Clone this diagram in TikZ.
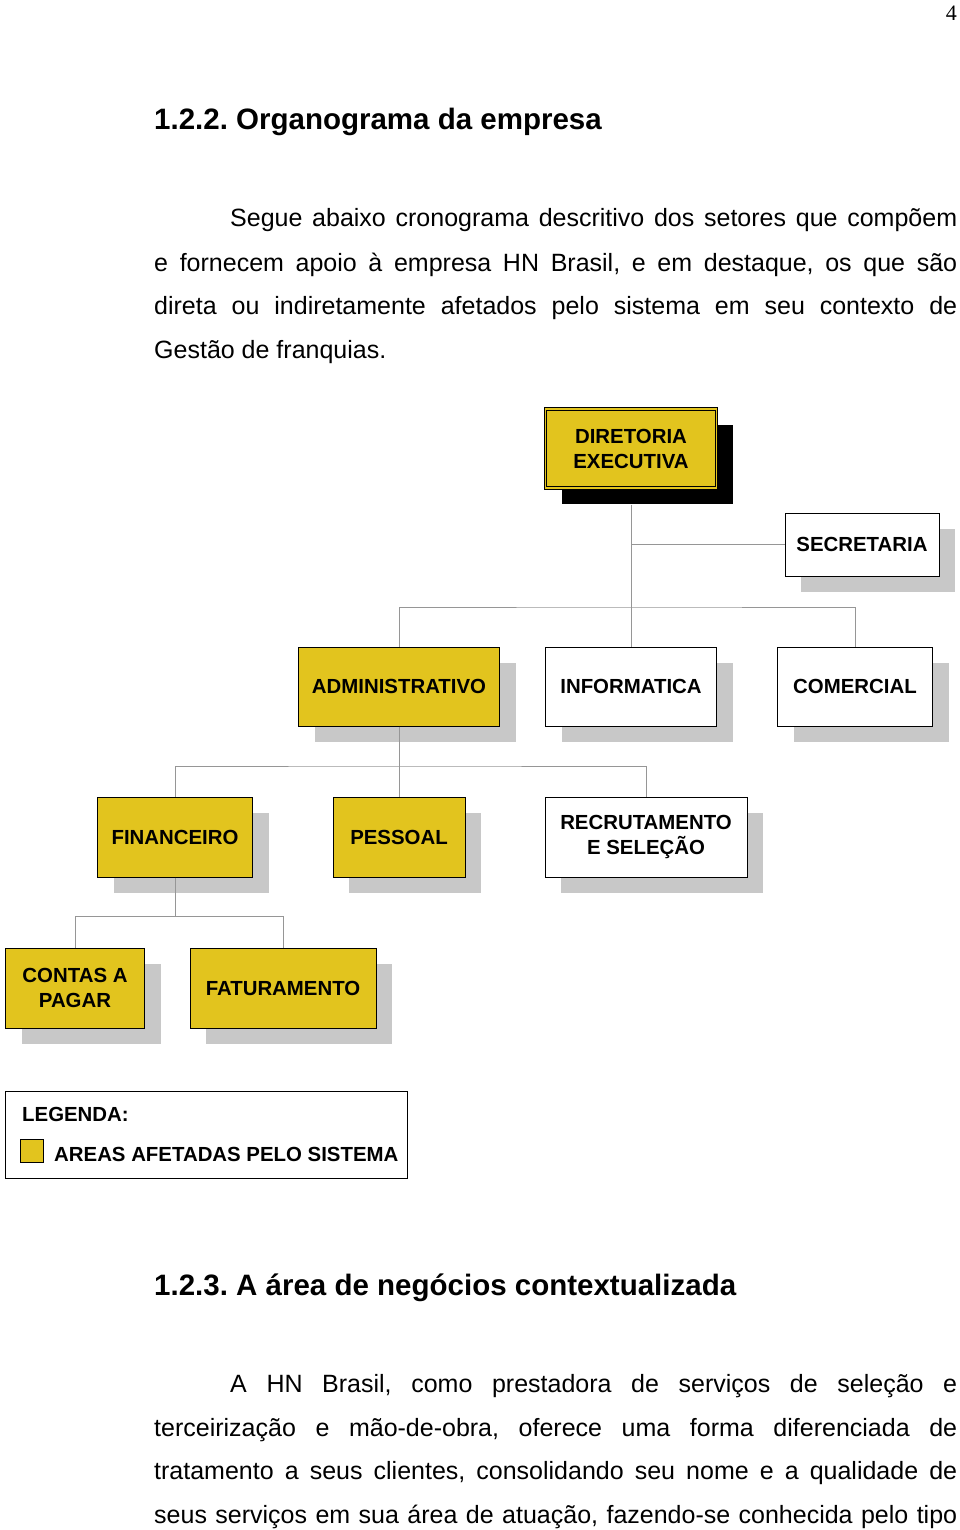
\documentclass[tikz,border=0pt]{standalone}
\usepackage{fontspec}
\setmainfont{Liberation Sans}
\newfontfamily\pagefont{Liberation Serif}
\usetikzlibrary{shadows}
\frenchspacing

\definecolor{areayellow}{RGB}{226,196,30}
\definecolor{shadegray}{RGB}{200,200,200}
\definecolor{linkgray}{RGB}{150,150,150}

\tikzset{
  boxbase/.style={draw=black, line width=1pt, align=center, inner sep=0pt,
    font=\fontsize{20.4}{25}\selectfont\bfseries},
  shade/.style={copy shadow={shadow xshift=16pt, shadow yshift=-16pt,
    fill=#1, draw=none}},
  shade/.default=shadegray,
  affected/.style={boxbase, shade, fill=areayellow},
  other/.style={boxbase, shade, fill=white},
  link/.style={draw=linkgray, line width=0.8pt},
  bodytext/.style={anchor=base west, inner sep=0pt,
    font=\fontsize{25}{30}\selectfont},
  headtext/.style={anchor=base west, inner sep=0pt,
    font=\fontsize{29.5}{34}\selectfont\bfseries},
}

\begin{document}
\begin{tikzpicture}[x=1pt, y=-1pt]
  \useasboundingbox (0,0) rectangle (960,1530);

  % --- Page number and first section ---
  \node[anchor=base east, inner sep=0pt, font=\pagefont\fontsize{22}{26}\selectfont]
    (pagenum) at (957,21) {4};
  \node[headtext] (head1) at (154,130) {1.2.2. Organograma da empresa};
  \node[bodytext] (par1a) at (230,227)
    {\makebox[727pt][s]{Segue abaixo cronograma descritivo dos setores que compõem}};
  \node[bodytext] (par1b) at (154,271)
    {\makebox[803pt][s]{e fornecem apoio à empresa HN Brasil, e em destaque, os que são}};
  \node[bodytext] (par1c) at (154,314)
    {\makebox[803pt][s]{direta ou indiretamente afetados pelo sistema em seu contexto de}};
  \node[bodytext] (par1d) at (154,358) {Gestão de franquias.};

  % --- Organogram boxes ---
  \node[affected, shade=black, double=areayellow, double distance=1.5pt,
    minimum width=171pt, minimum height=79pt] (dir) at (631,448.5)
    {DIRETORIA\\EXECUTIVA};
  \node[other, minimum width=154pt, minimum height=63pt] (sec) at (862,544.5)
    {SECRETARIA};

  \node[affected, minimum width=201pt, minimum height=79pt] (adm) at (399,686.5)
    {ADMINISTRATIVO};
  \node[other, minimum width=171pt, minimum height=79pt] (info) at (631,686.5)
    {INFORMATICA};
  \node[other, minimum width=155pt, minimum height=79pt] (com) at (855,686.5)
    {COMERCIAL};

  \node[affected, minimum width=155pt, minimum height=80pt] (fin) at (175,837)
    {FINANCEIRO};
  \node[affected, minimum width=132pt, minimum height=80pt] (pes) at (399,837)
    {PESSOAL};
  \node[other, minimum width=202pt, minimum height=80pt] (rec) at (646,837)
    {RECRUTAMENTO\\E SELEÇÃO};

  \node[affected, minimum width=139pt, minimum height=80pt] (ctp) at (75,988)
    {CONTAS A\\PAGAR};
  \node[affected, minimum width=186pt, minimum height=80pt] (fat) at (283,988)
    {FATURAMENTO};

  % --- Connectors ---
  \coordinate (bar1) at (631,607);
  \coordinate (bar2) at (399,766);
  \coordinate (bar3) at (175,916);
  \draw[link] ([yshift=-16pt]dir.south) -- (info.north);
  \draw[link] (dir.south |- sec.west) -- (sec.west);
  \draw[link] (adm.north) |- (bar1) -| (com.north);
  \draw[link] (adm.south) -- (pes.north);
  \draw[link] (fin.north) |- (bar2) -| (rec.north);
  \draw[link] (fin.south) -- (bar3);
  \draw[link] (ctp.north) |- (bar3) -| (fat.north);

  % --- Legend ---
  \node[draw=black, line width=1pt, inner sep=0pt, anchor=north west,
    minimum width=402pt, minimum height=87pt] (legend) at (5,1091) {};
  \node[anchor=base west, inner sep=0pt, font=\fontsize{20.4}{25}\selectfont\bfseries]
    (legtitle) at (22,1121) {LEGENDA:};
  \node[draw=black, line width=1pt, fill=areayellow, inner sep=0pt,
    minimum size=23pt] (legkey) at (32,1151) {};
  \node[anchor=base west, inner sep=0pt, font=\fontsize{20.4}{25}\selectfont\bfseries]
    (legtext) at (54,1161) {AREAS AFETADAS PELO SISTEMA};

  % --- Second section ---
  \node[headtext] (head2) at (154,1295) {1.2.3. A área de negócios contextualizada};
  \node[bodytext] (par2a) at (230,1392)
    {\makebox[727pt][s]{A HN Brasil, como prestadora de serviços de seleção e}};
  \node[bodytext] (par2b) at (154,1436)
    {\makebox[803pt][s]{terceirização e mão-de-obra, oferece uma forma diferenciada de}};
  \node[bodytext] (par2c) at (154,1479)
    {\makebox[803pt][s]{tratamento a seus clientes, consolidando seu nome e a qualidade de}};
  \node[bodytext] (par2d) at (154,1523)
    {\makebox[803pt][s]{seus serviços em sua área de atuação, fazendo-se conhecida pelo tipo}};
\end{tikzpicture}
\end{document}
